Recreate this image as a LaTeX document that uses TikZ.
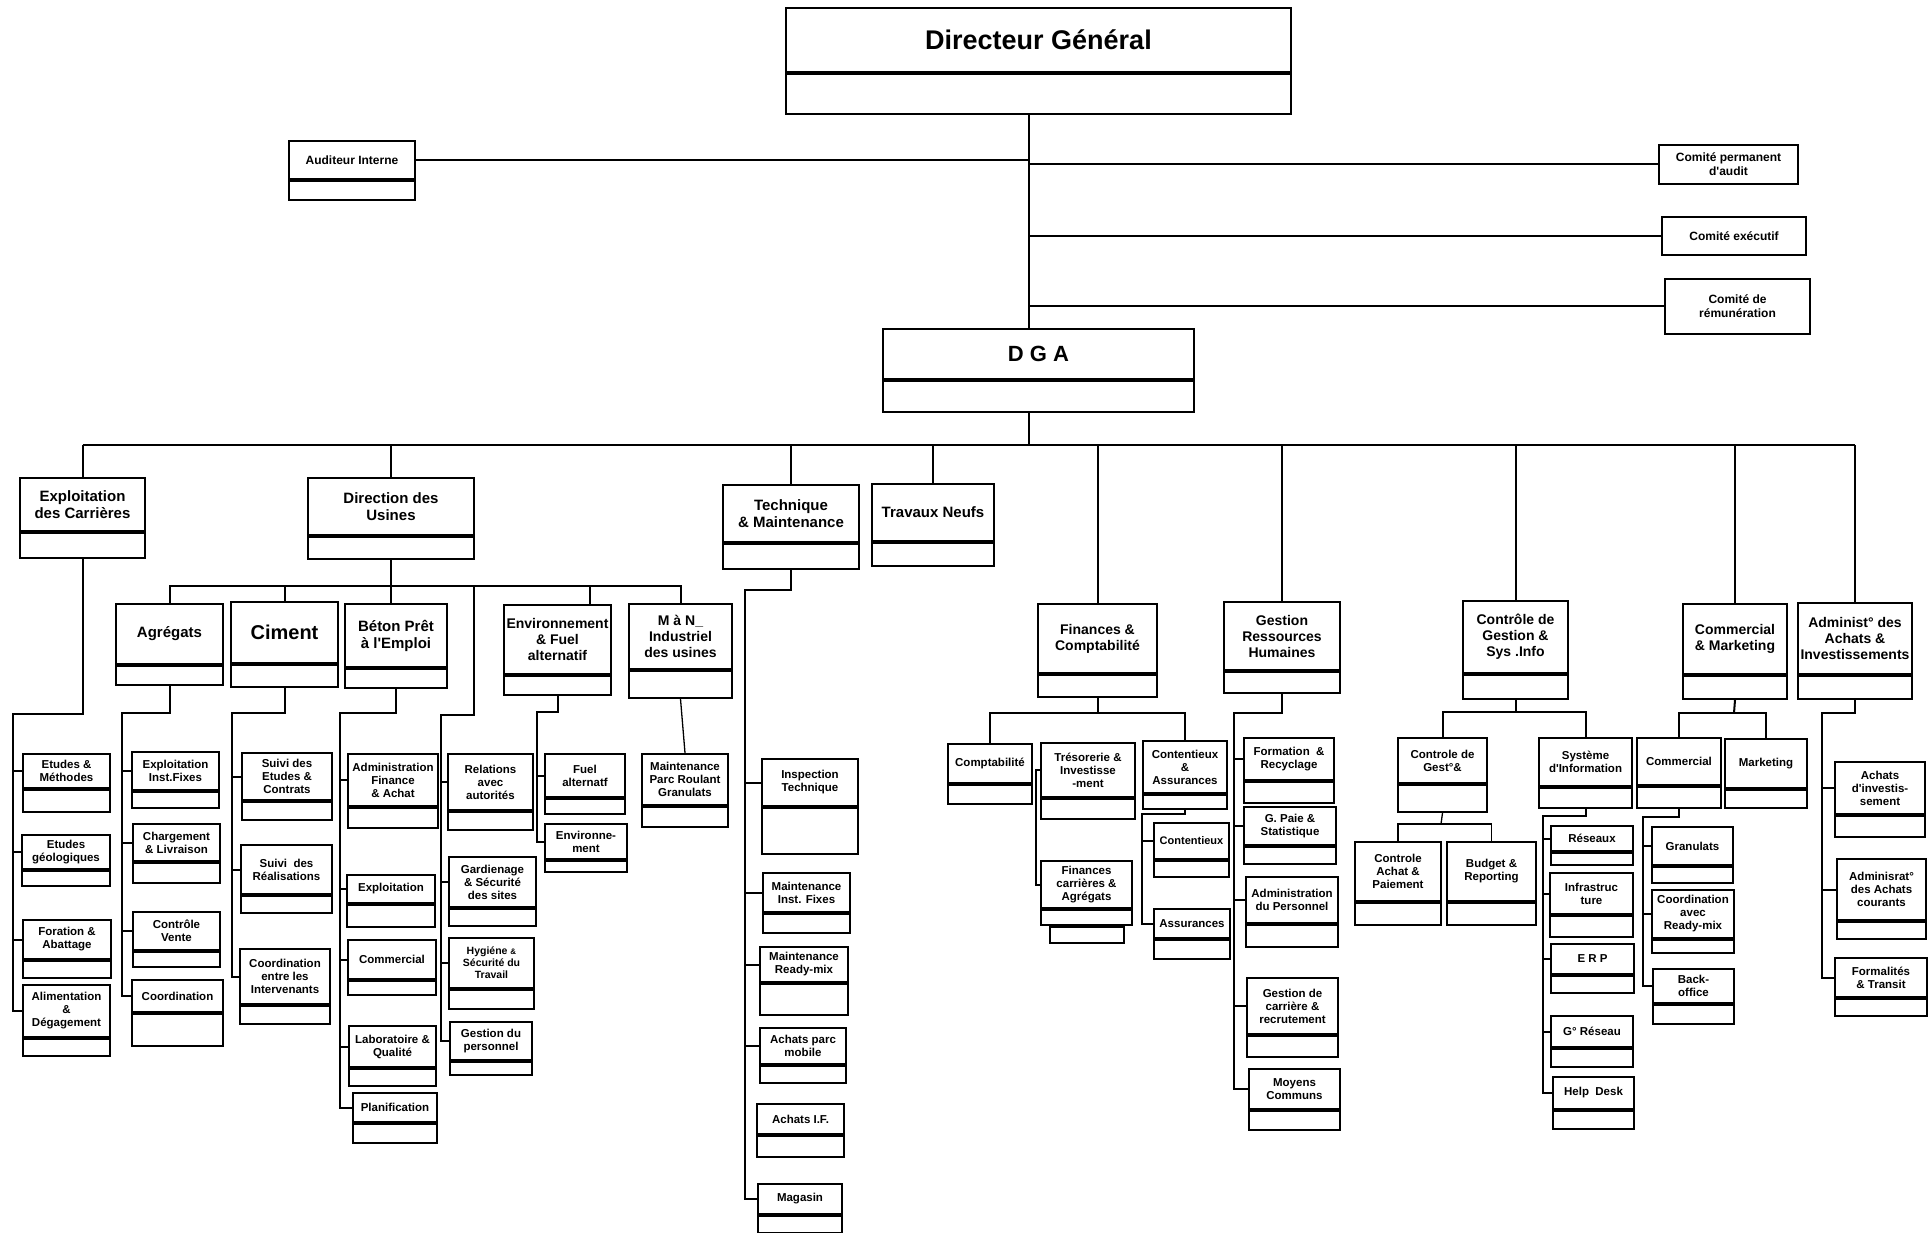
\documentclass[tikz,border=0pt]{standalone}
\usepackage{fontspec}
\setmainfont{Liberation Sans}
\newcommand{\apos}{\textquotesingle}

% two-part box: head with text, empty foot below (name-p)
\newcommand{\poste}[7][]{%
  \node[tete, #1, minimum width=#4, minimum height=#5, anchor=north west] (#2) at (#3) {#7};
  \node[pied, minimum width=#4, minimum height=#6, anchor=north] (#2-p) at (#2.south) {};%
}

\begin{document}
\begin{tikzpicture}[
  x=1pt, y=-1pt,
  tete/.style={draw, line width=2pt, align=center, inner sep=1pt,
               font=\bfseries\fontsize{11.5}{13}\selectfont},
  pied/.style={draw, line width=2pt, inner sep=0pt},
  seul/.style={tete, font=\bfseries\fontsize{12}{14}\selectfont},
  titre/.style={font=\bfseries\fontsize{27}{30}\selectfont},
  grand/.style={font=\bfseries\fontsize{15}{17}\selectfont},
  moyen/.style={font=\bfseries\fontsize{14}{16}\selectfont},
  petit/.style={font=\bfseries\fontsize{10.5}{12}\selectfont},
  lien/.style={line width=2pt},
  fin/.style={line width=1.3pt}
]
\useasboundingbox (0,0) rectangle (1928,1233);
% ----- top -----
\poste[titre]{dg}{785,7}{505}{64}{40}{Directeur Général}
\poste[seul]{aud}{288,140}{126}{38}{19}{Auditeur Interne}
\node[seul, minimum width=139, minimum height=39, anchor=north west] (cpa) at (1658,144) {Comité permanent\\d\apos audit};
\node[seul, minimum width=144, minimum height=38, anchor=north west] (cex) at (1661,216) {Comité exécutif};
\node[seul, minimum width=145, minimum height=55, anchor=north west] (crm) at (1664,278) {Comité de\\rémunération};
\poste[font=\bfseries\fontsize{22}{26}\selectfont]{dga}{882,328}{311}{50}{31}{D G A}
% ----- directions -----
\poste[grand]{exp}{19,477}{125}{53}{25}{Exploitation\\des Carrières}
\poste[grand]{du}{307,477}{166}{57}{22}{Direction des\\Usines}
\poste[grand]{tm}{722,484}{136}{57}{25}{Technique\\\& Maintenance}
\poste[grand]{tn}{871,483}{122}{57}{23}{Travaux Neufs}
\poste[moyen]{fc}{1037,603}{119}{69}{22}{Finances \&\\Comptabilité}
\poste[moyen]{grh}{1223,601}{116}{68}{21}{Gestion\\Ressources\\Humaines}
\poste[moyen]{cg}{1462,600}{105}{72}{24}{Contrôle de\\Gestion \&\\Sys .Info}
\poste[moyen]{cm}{1682,603}{104}{70}{23}{Commercial\\\& Marketing}
\poste[moyen]{adm}{1797,602}{114}{71}{23}{Administ° des\\Achats \&\\Investissements}
% ----- usines -----
\poste[grand]{agr}{115,603}{107}{60}{19}{Agrégats}
\poste[font=\bfseries\fontsize{20}{23}\selectfont]{cim}{230,601}{107}{61}{22}{Ciment}
\poste[grand]{bet}{344,603}{102}{63}{19}{Béton Prêt\\à l\apos Emploi}
\poste[moyen]{env}{503,604}{107}{69}{19}{Environnement\\\& Fuel\\alternatif}
\poste[moyen]{man}{628,603}{103}{65}{27}{M à N\_\\Industriel\\des usines}
% ----- carrieres -----
\poste{etm}{22,753}{87}{34}{22}{Etudes \&\\Méthodes}
\poste{ege}{21,834}{88}{34}{15}{Etudes\\géologiques}
\poste{foa}{22,919}{88}{39}{17}{Foration \&\\Abattage}
\poste{ali}{22,984}{87}{52}{17}{Alimentation\\\&\\Dégagement}
% ----- agregats -----
\poste{eif}{131,751}{87}{38}{16}{Exploitation\\Inst.Fixes}
\poste{chl}{132,823}{87}{37}{20}{Chargement\\\& Livraison}
\poste{cv}{132,911}{87}{38}{15}{Contrôle\\Vente}
\poste{coo}{131,979}{91}{32}{32}{Coordination}
% ----- ciment -----
\poste{sec}{241,752}{90}{47}{18}{Suivi des\\Etudes \&\\Contrats}
\poste{sre}{240,844}{91}{49}{17}{Suivi\ \ des\\Réalisations}
\poste{cei}{239,948}{90}{55}{18}{Coordination\\entre les\\Intervenants}
% ----- beton -----
\poste{afa}{347,753}{90}{52}{20}{Administration\\Finance\\\& Achat}
\poste{bex}{346,874}{88}{28}{22}{Exploitation}
\poste{bco}{347,939}{88}{39}{14}{Commercial}
\poste{lab}{348,1025}{87}{41}{17}{Laboratoire \&\\Qualité}
\poste{pla}{352,1092}{84}{29}{19}{Planification}
\poste{rel}{447,753}{85}{56}{18}{Relations\\avec\\autorités}
\poste{gar}{448,856}{87}{50}{17}{Gardienage\\\& Sécurité\\des sites}
\poste[petit]{hyg}{448,937}{85}{50}{19}{Hygiéne {\fontsize{8}{9}\selectfont\&}\\Sécurité du\\Travail}
\poste{gdp}{449,1021}{82}{38}{13}{Gestion du\\personnel}
% ----- environnement, MaN -----
\poste{fue}{544,753}{80}{43}{15}{Fuel\\alternatf}
\poste{evt}{544,823}{82}{35}{11}{Environne-\\ment}
\poste{mpr}{641,753}{86}{51}{20}{Maintenance\\Parc Roulant\\Granulats}
% ----- technique -----
\poste{ins}{761,758}{96}{47}{46}{Inspection\\Technique}
\poste{mif}{762,872}{87}{39}{19}{Maintenance\\Inst. Fixes}
\poste{mrm}{759,946}{88}{35}{31}{Maintenance\\Ready-mix}
\poste{apm}{759,1027}{86}{36}{17}{Achats parc\\mobile}
\poste{aif}{756,1103}{87}{30}{21}{Achats I.F.}
\poste{mag}{757,1183}{84}{30}{17}{Magasin}
% ----- finances -----
\poste{cpt}{947,743}{84}{39}{19}{Comptabilité}
\poste{tre}{1040,742}{94}{54}{20}{Trésorerie \&\\Investisse\\-ment}
\poste{ca}{1142,740}{84}{52}{14}{Contentieux\\\&\\Assurances}
\poste{fca}{1040,860}{91}{47}{15}{Finances\\carrières \&\\Agrégats}
\node[pied, minimum width=74, minimum height=16, anchor=north] (fca-q) at (fca-p.south) {};
\poste[font=\bfseries\fontsize{11}{13}\selectfont]{cnt}{1153,822}{75}{36}{16}{Contentieux}
\poste{ass}{1153,908}{76}{29}{19}{Assurances}
% ----- RH -----
\poste{frm}{1243,737}{90}{42}{21}{Formation\ \ \&\\Recyclage}
\poste{pai}{1243,806}{92}{38}{17}{G. Paie\ \&\\Statistique}
\poste{adp}{1245,876}{92}{46}{22}{Administration\\du Personnel}
\poste{gdc}{1246,977}{91}{56}{21}{Gestion de\\carrière \&\\recrutement}
\poste{moy}{1248,1068}{91}{40}{19}{Moyens\\Communs}
% ----- controle de gestion -----
\poste{cdg}{1397,737}{89}{45}{27}{Controle de\\Gest°\&}
\poste{sif}{1538,737}{93}{48}{20}{Système\\d\apos Information}
\poste{cap}{1354,841}{86}{59}{22}{Controle\\Achat \&\\Paiement}
\poste{bud}{1446,841}{89}{59}{22}{Budget \&\\Reporting}
\poste{res}{1550,825}{82}{25}{12}{Réseaux}
\poste{inf}{1549,872}{83}{41}{21}{Infrastruc\\ture}
\poste{erp}{1550,943}{83}{30}{17}{E R P}
\poste{grs}{1550,1015}{82}{31}{18}{G° Réseau}
\poste{hdk}{1552,1076}{81}{32}{18}{Help\ \ Desk}
% ----- commercial, achats -----
\poste{com}{1636,737}{84}{47}{21}{Commercial}
\poste{mkt}{1724,738}{82}{49}{18}{Marketing}
\poste{gra}{1651,826}{81}{38}{16}{Granulats}
\poste{cry}{1651,889}{82}{48}{13}{Coordination\\avec\\Ready-mix}
\poste{bko}{1652,968}{81}{34}{19}{Back-\\office}
\poste{aci}{1834,761}{90}{52}{21}{Achats\\d\apos investis-\\sement}
\poste{aac}{1836,858}{89}{61}{17}{Adminisrat°\\des Achats\\courants}
\poste{frt}{1834,957}{92}{39}{17}{Formalités\\\& Transit}
% ----- DG / DGA links -----
\coordinate (axe) at (1029,0);
\draw[lien] (axe |- dg-p.south) -- (axe |- dga.north);
\draw[lien] (aud.east) -- (axe |- aud.east);
\foreach \n in {cpa,cex,crm}{\draw[lien] (axe |- \n.west) -- (\n.west);}
% ----- main bus -----
\coordinate (bus) at (1029,445);
\draw[lien] (axe |- dga-p.south) -- (bus);
\draw[lien] (exp.north |- bus) -- (adm.north |- bus);
\foreach \n in {exp,du,tm,tn,fc,grh,cg,cm,adm}{\draw[lien] (\n.north |- bus) -- (\n.north);}
% ----- direction des usines -----
\coordinate (du-h) at (389,586);
\coordinate (env-t) at ([xshift=32pt]env.north);
\draw[lien] (du-p.south) -- (du-p.south |- bet.north);
\draw[lien] (agr.north) |- (du-h) -| (man.north);
\draw[lien] (cim.north) -- (cim.north |- du-h);
\draw[lien] (env-t) -- (env-t |- du-h);
\coordinate (rel-h) at (474,586);
\coordinate (rel-c) at (441,715);
\draw[lien] (rel-h) |- (rel-c) |- (gdp.west);
\foreach \n in {rel,gar,hyg}{\draw[lien] (rel-c |- \n.west) -- (\n.west);}
% ----- columns -----
\coordinate (exp-c) at (13,714);
\draw[lien] (exp-p.south) |- (exp-c) |- (ali.west);
\foreach \n in {etm,ege,foa}{\draw[lien] (exp-c |- \n.west) -- (\n.west);}
\coordinate (agr-c) at (122,713);
\draw[lien] (agr-p.south) |- (agr-c) |- (coo.west);
\foreach \n in {eif,chl,cv}{\draw[lien] (agr-c |- \n.west) -- (\n.west);}
\coordinate (cim-c) at (232,713);
\draw[lien] (cim-p.south) |- (cim-c) |- (cei.west);
\foreach \n in {sec,sre}{\draw[lien] (cim-c |- \n.west) -- (\n.west);}
\coordinate (bet-c) at (340,713);
\draw[lien] (bet-p.south) |- (bet-c) |- (pla.west);
\foreach \n in {afa,bex,bco,lab}{\draw[lien] (bet-c |- \n.west) -- (\n.west);}
\coordinate (env-c) at (537,712);
\draw[lien] (env-p.south) |- (env-c) |- (evt.west);
\draw[lien] (env-c |- fue.west) -- (fue.west);
\draw[fin] (man-p.south) -- (mpr.north);
\coordinate (tm-c) at (745,590);
\draw[lien] (tm-p.south) |- (tm-c) |- (mag.west);
\foreach \n in {ins,mif,mrm,apm}{\draw[lien] (tm-c |- \n.west) -- (\n.west);}
% ----- finances -----
\coordinate (fc-h) at (1094,713);
\draw[lien] (fc-p.south) -- (fc-p.south |- fc-h);
\draw[lien] (cpt.north) |- (fc-h) -| (ca.north);
\draw[lien] (tre.west) -- ++(-4,0) |- (fca.west);
\coordinate (ca-c) at (1142,814);
\draw[lien] (ca-p.south) |- (ca-c) |- (ass.west);
\draw[lien] (ca-c |- cnt.west) -- (cnt.west);
% ----- RH -----
\coordinate (grh-c) at (1234,713);
\draw[lien] (grh-p.south) |- (grh-c) |- (moy.west);
\foreach \n in {frm,pai,adp,gdc}{\draw[lien] (grh-c |- \n.west) -- (\n.west);}
% ----- controle de gestion -----
\coordinate (cg-h) at (1513,712);
\draw[lien] (cg-p.south) -- (cg-p.south |- cg-h);
\draw[lien] (cdg.north) |- (cg-h) -| (sif.north);
\coordinate (cdg-h) at (1441,824);
\draw[fin] (cdg-p.south) -- (cdg-h);
\draw[fin] (cap.north) |- (cdg-h) -| (bud.north);
\coordinate (sif-c) at (1543,816);
\draw[lien] (sif-p.south) |- (sif-c) |- (hdk.west);
\foreach \n in {res,inf,erp,grs}{\draw[lien] (sif-c |- \n.west) -- (\n.west);}
% ----- commercial, achats -----
\coordinate (cm-h) at (1734,713);
\draw[lien] (cm-p.south) -- (cm-h);
\draw[lien] (com.north) |- (cm-h) -| (mkt.north);
\coordinate (com-c) at (1643,817);
\draw[lien] (com-p.south) |- (com-c) |- (bko.west);
\foreach \n in {gra,cry}{\draw[lien] (com-c |- \n.west) -- (\n.west);}
\coordinate (adm-c) at (1822,713);
\draw[lien] (adm-p.south) |- (adm-c) |- (frt.west);
\foreach \n in {aci,aac}{\draw[lien] (adm-c |- \n.west) -- (\n.west);}
\end{tikzpicture}
\end{document}
